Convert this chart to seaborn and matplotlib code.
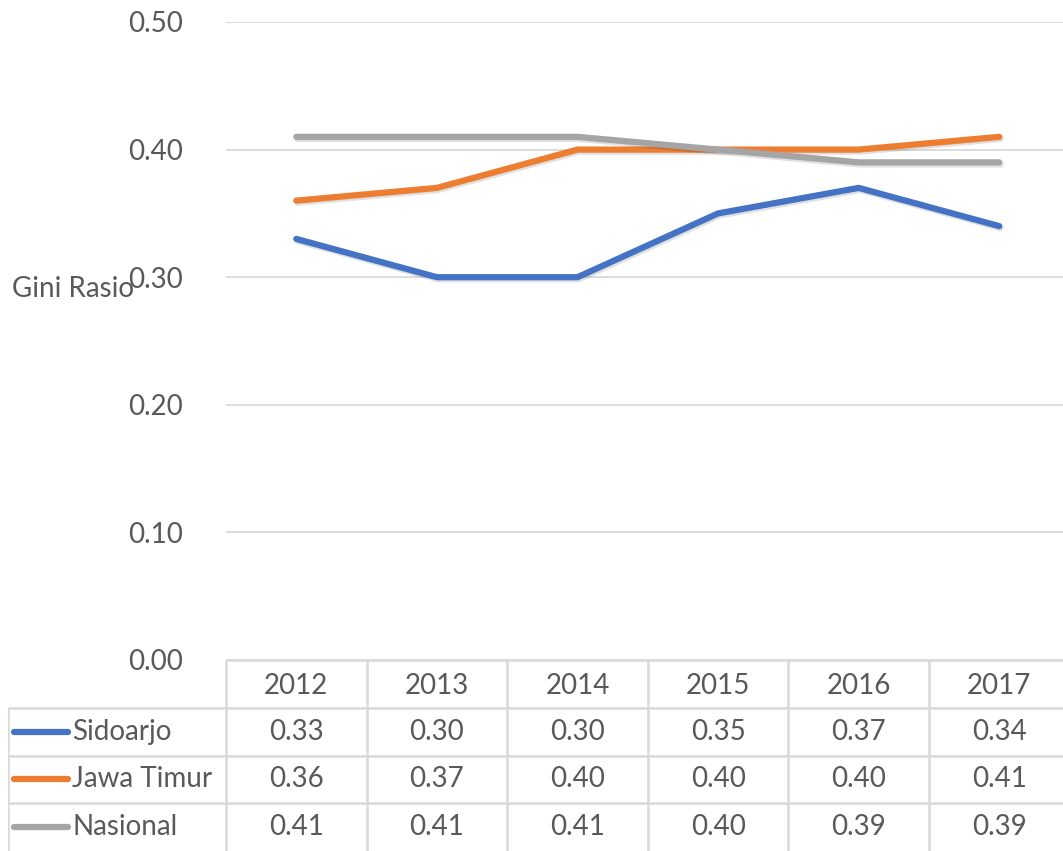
import pandas as pd
import seaborn as sns
import matplotlib.pyplot as plt
import matplotlib.patheffects as pe

# data
years = ["2012", "2013", "2014", "2015", "2016", "2017"]
sidoarjo = [0.33, 0.30, 0.30, 0.35, 0.37, 0.34]
jawa_timur = [0.36, 0.37, 0.40, 0.40, 0.40, 0.41]
nasional = [0.41, 0.41, 0.41, 0.40, 0.39, 0.39]
series_names = ["Sidoarjo", "Jawa Timur", "Nasional"]
colors = ["#4472C4", "#ED7D31", "#A5A5A5"]

df = pd.DataFrame({"Tahun": years * 3,
                   "Gini": sidoarjo + jawa_timur + nasional,
                   "Wilayah": [n for n in series_names for _ in years]})
df["x"] = df["Tahun"].map({y: i for i, y in enumerate(years)})

sns.set_style("white")
plt.rcParams["font.family"] = ["Lato", "DejaVu Sans"]
txt = "#595959"
grid = "#D9D9D9"

W, H = 1063, 851
unit = 140.6  # px per category column
fig = plt.figure(figsize=(W / 100, H / 100), dpi=100)

# main plot area (right edge of last column runs slightly past the image)
ax = fig.add_axes([226 / W, (H - 660) / H, len(years) * unit / W, (660 - 22) / H])
sns.lineplot(data=df, x="x", y="Gini", hue="Wilayah", palette=colors,
             linewidth=4.5, legend=False, ax=ax)
# soft drop shadow like the Excel line style
shadow = [pe.SimpleLineShadow(offset=(1, -1.5), alpha=0.12, shadow_color="k"),
          pe.Normal()]
for ln in ax.get_lines():
    ln.set_solid_capstyle("round")
    ln.set_solid_joinstyle("round")
    ln.set_path_effects(shadow)
ax.set_xlim(-0.5, len(years) - 0.5)
ax.set_ylim(0, 0.5)
ax.set_yticks([0, 0.1, 0.2, 0.3, 0.4, 0.5])
ax.set_yticklabels([f"{v:.2f}" for v in ax.get_yticks()])
ax.set_xticks([])
ax.set_xlabel("")
ax.set_ylabel("")
ax.tick_params(axis="y", length=0, pad=31, labelsize=20, labelcolor=txt)
ax.yaxis.grid(True, color=grid, linewidth=1.3)
ax.set_axisbelow(True)
for s in ax.spines.values():
    s.set_visible(False)
fig.text(12 / W, 1 - 289 / H, "Gini Rasio", fontsize=20, color=txt,
         ha="left", va="center")

# data table under the plot
tab = fig.add_axes([8 / W, 0, (218 + len(years) * unit) / W, (H - 660) / H])
left = -0.5 - 218 / unit
tab.set_xlim(left, len(years) - 0.5)
tab.set_ylim(0, 4)
tab.axis("off")
lw = 1.8
tab.hlines(4, -0.5, len(years) - 0.5, color=grid, lw=lw)
tab.hlines([1, 2, 3], left, len(years) - 0.5, color=grid, lw=lw)
tab.vlines([i - 0.5 for i in range(len(years) + 1)], 0, 4, color=grid, lw=lw)
tab.vlines(left, 0, 3, color=grid, lw=lw)
for i, y in enumerate(years):
    tab.text(i, 3.45, y, ha="center", va="center", fontsize=20, color=txt)
rows = [sidoarjo, jawa_timur, nasional]
key_w = 54 / unit
for r, (name, vals, c) in enumerate(zip(series_names, rows, colors)):
    yc = 2.5 - r
    tab.plot([left + 6 / unit, left + 6 / unit + key_w], [yc, yc], color=c,
             lw=4.5, solid_capstyle="round")
    tab.text(left + 64 / unit, yc, name, ha="left", va="center",
             fontsize=20, color=txt)
    for i, v in enumerate(vals):
        tab.text(i, yc, f"{v:.2f}", ha="center", va="center",
                 fontsize=20, color=txt)

fig.savefig("out.png", dpi=100)
